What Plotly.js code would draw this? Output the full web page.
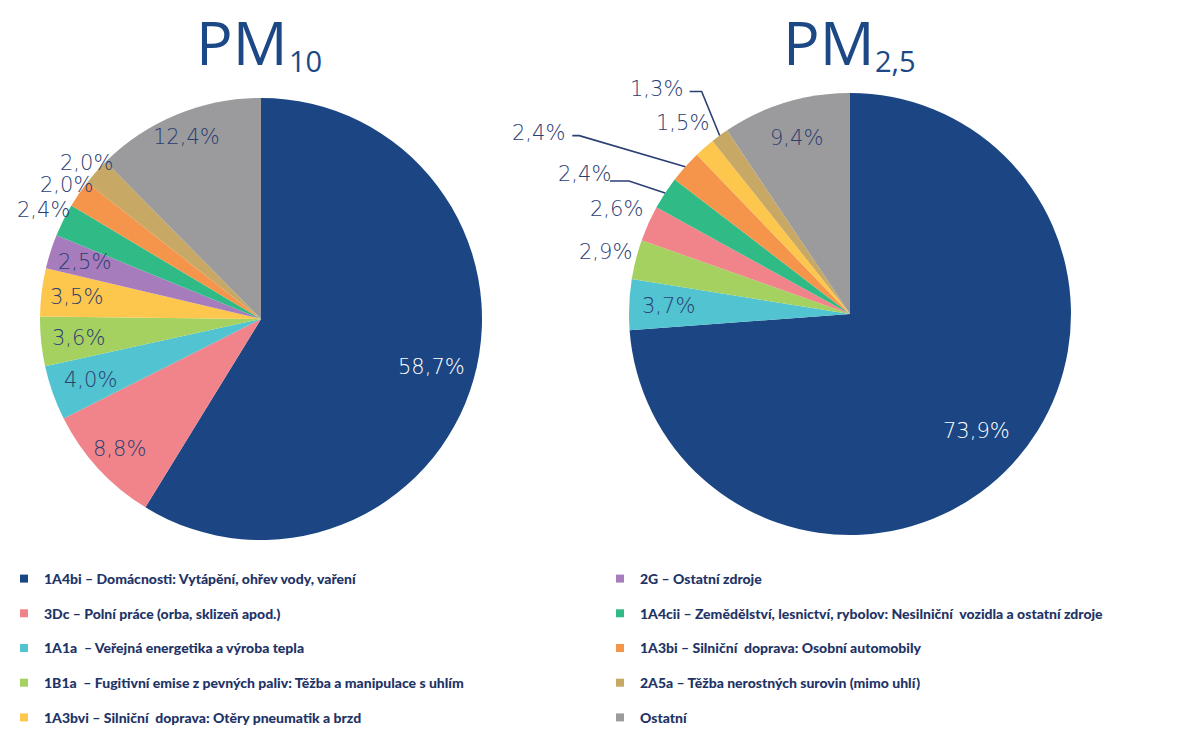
<!DOCTYPE html>
<html><head><meta charset="utf-8">
<script src="https://cdn.plot.ly/plotly-3.0.1.min.js"></script>
<style>html,body{margin:0;padding:0;background:#fff}</style>
</head><body><div id="chart" style="width:1182px;height:731px"></div>
<script>
// ---------- DATA ----------
const categoryCodes = ["1A4bi","3Dc","1A1a","1B1a","1A3bvi","2G","1A4cii","1A3bi","2A5a","Ostatní"];
const categoryNames = [
  "1A4bi – Domácnosti: Vytápění, ohřev vody, vaření",
  "3Dc – Polní práce (orba, sklizeň apod.)",
  "1A1a  – Veřejná energetika a výroba tepla",
  "1B1a  – Fugitivní emise z pevných paliv: Těžba a manipulace s uhlím",
  "1A3bvi – Silniční  doprava: Otěry pneumatik a brzd",
  "2G – Ostatní zdroje",
  "1A4cii – Zemědělství, lesnictví, rybolov: Nesilniční  vozidla a ostatní zdroje",
  "1A3bi – Silniční  doprava: Osobní automobily",
  "2A5a – Těžba nerostných surovin (mimo uhlí)",
  "Ostatní"
];
const pm10Labels = ["1A4bi","3Dc","1A1a","1B1a","1A3bvi","2G","1A4cii","1A3bi","2A5a","Ostatní"];
const pm10Values = [58.7, 8.8, 4.0, 3.6, 3.5, 2.5, 2.4, 2.0, 2.0, 12.4];
const pm25Labels = ["1A4bi","1A1a","1B1a","3Dc","1A4cii","1A3bi","1A3bvi","2A5a","Ostatní"];
const pm25Values = [73.9, 3.7, 2.9, 2.6, 2.4, 2.4, 1.5, 1.3, 9.4];

// ---------- STYLE ----------
const W = 1182, H = 731;
const colors = {
  "1A4bi":"#1B4683","3Dc":"#F0848A","1A1a":"#52C3D0","1B1a":"#A5D160","1A3bvi":"#FDC74D",
  "2G":"#A77CBD","1A4cii":"#30BB86","1A3bi":"#F5944B","2A5a":"#C7A865","Ostatní":"#9B9B9D"
};
const textColor = "#2B3E72";
const titleColor = "#1C4886";
const pctFont = "DejaVu Sans ExtraLight, DejaVu Sans";
const pie10 = {cx:261, cy:319, r:221};
const pie25 = {cx:850, cy:314, r:221};
// radial position of each label (fraction of radius)
const pm10LabelR = [0.80, 0.87, 0.82, 0.83, 0.84, 0.84, 1.10, 1.07, 1.06, 0.89];
const pm25LabelR = [0.78, 0.82, 1.14, 1.16, null, null, 1.15, null, 0.83];
// leader-line labels (PM2.5): text offset from slice edge, line start offset from text, elbow length
const pm25Leaders = {
  4: {text:[-81,-19], start:[26,7], elbow:19},
  5: {text:[-147,-34], start:[34,3], elbow:7},
  7: {text:[-63,-47], start:[33,3], elbow:12}
};

function fmt(v){ return v.toFixed(1).replace('.', ',') + '%'; }
function px2paper(x, y){ return [x / W, 1 - y / H]; }
function domainOf(p){
  return {x:[(p.cx - p.r)/W, (p.cx + p.r)/W], y:[1 - (p.cy + p.r)/H, 1 - (p.cy - p.r)/H]};
}
function midAngle(values, i){
  const tot = values.reduce((a,b)=>a+b,0);
  let cum = 0; for(let k=0;k<i;k++) cum += values[k];
  return (cum + values[i]/2) / tot * 2 * Math.PI;
}
function polarPx(p, a, f){ return [p.cx + p.r*f*Math.sin(a), p.cy - p.r*f*Math.cos(a)]; }

const annotations = [];
const shapes = [];

function addLabels(p, labels, values, radii, leaders){
  values.forEach((v, i) => {
    const a = midAngle(values, i);
    const col = labels[i] === "1A4bi" ? "#FFFFFF" : textColor;
    let tx, ty;
    if (radii[i] != null) {
      [tx, ty] = polarPx(p, a, radii[i]);
    } else {
      const L = leaders[i];
      const [ex, ey] = polarPx(p, a, 1.0);
      tx = ex + L.text[0]; ty = ey + L.text[1];
      const sx = tx + L.start[0], sy = ty + L.start[1];
      const bx = sx + L.elbow, by = sy;
      const P = [px2paper(sx, sy), px2paper(bx, by), px2paper(ex, ey)];
      shapes.push({type:'path', xref:'paper', yref:'paper',
        path:`M ${P[0][0]},${P[0][1]} L ${P[1][0]},${P[1][1]} L ${P[2][0]},${P[2][1]}`,
        line:{color:"#2A3F72", width:1.6}});
    }
    const [X, Y] = px2paper(tx, ty);
    annotations.push({xref:'paper', yref:'paper', x:X, y:Y, xanchor:'center', yanchor:'middle',
      text: fmt(v), showarrow:false, font:{family:pctFont, size:21, color:col, weight:200}});
  });
}
addLabels(pie10, pm10Labels, pm10Values, pm10LabelR, {});
addLabels(pie25, pm25Labels, pm25Values, pm25LabelR, pm25Leaders);

// titles
function addTitle(main, sub, rightX, subLeftX){
  const a = px2paper(rightX, 41), b = px2paper(subLeftX, 61);
  annotations.push({xref:'paper', yref:'paper', x:a[0], y:a[1], xanchor:'right', yanchor:'middle',
    text:main, showarrow:false, font:{family:"Open Sans", size:61, color:titleColor, weight:500}});
  annotations.push({xref:'paper', yref:'paper', x:b[0], y:b[1], xanchor:'left', yanchor:'middle',
    text:sub, showarrow:false, font:{family:"Open Sans", size:29, color:titleColor, weight:500}});
}
addTitle("PM", "10", 290, 287);
addTitle("PM", "2,5", 877, 873);

const traces = [
  {type:'pie', labels:pm10Labels, values:pm10Values, sort:false, direction:'clockwise', rotation:0,
   domain:domainOf(pie10), marker:{colors:pm10Labels.map(l=>colors[l]), line:{width:0}},
   textinfo:'none', hoverinfo:'label+percent', showlegend:false},
  {type:'pie', labels:pm25Labels, values:pm25Values, sort:false, direction:'clockwise', rotation:0,
   domain:domainOf(pie25), marker:{colors:pm25Labels.map(l=>colors[l]), line:{width:0}},
   textinfo:'none', hoverinfo:'label+percent', showlegend:false}
];
categoryCodes.forEach((c, i) => {
  traces.push({type:'scatter', x:[null], y:[null], mode:'markers', name:categoryNames[i],
    marker:{symbol:'square', size:8, color:colors[c]}, legend: i < 5 ? 'legend' : 'legend2',
    legendgroup:'g'+i, showlegend:true, hoverinfo:'skip'});
});

const legendCommon = {xanchor:'left', yanchor:'top', bgcolor:'rgba(0,0,0,0)', tracegroupgap:13.5,
  itemwidth:30, font:{family:"Lato", size:14, color:"#1F3466", weight:900}};
const layout = {
  width:W, height:H, margin:{l:0,r:0,t:0,b:0, autoexpand:false}, paper_bgcolor:'#fff', plot_bgcolor:'#fff',
  xaxis:{visible:false}, yaxis:{visible:false},
  legend:Object.assign({x:4/W, y:1-563/H}, legendCommon),
  legend2:Object.assign({x:600/W, y:1-563/H}, legendCommon),
  annotations, shapes
};
Plotly.newPlot('chart', traces, layout, {displayModeBar:false, staticPlot:true});
</script></body></html>
